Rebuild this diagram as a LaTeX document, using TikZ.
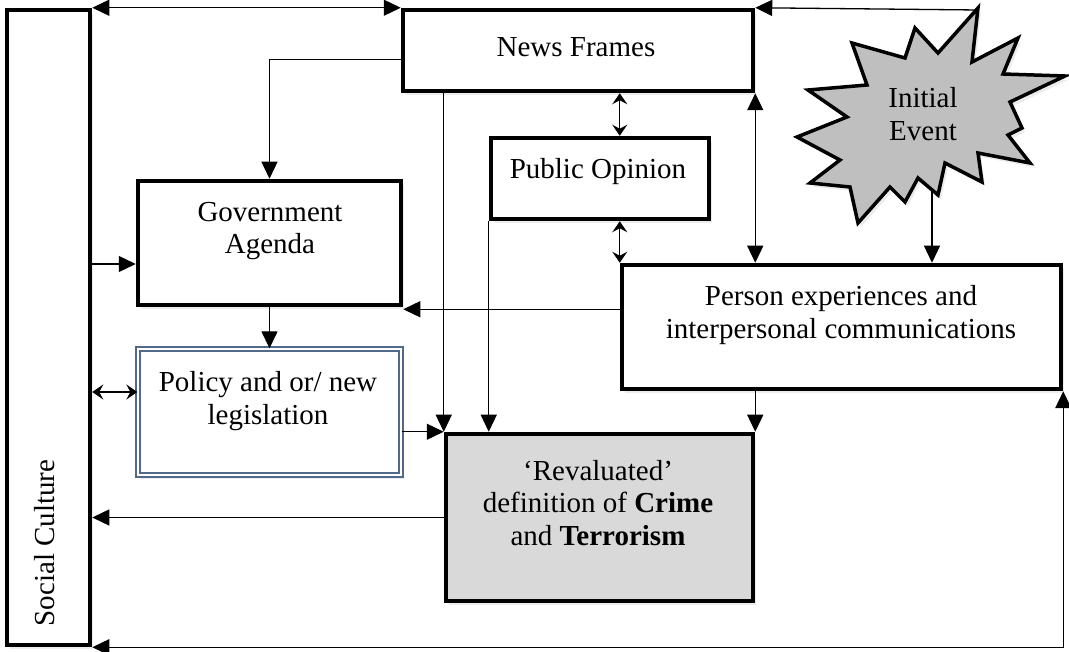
\documentclass[tikz,border=0pt]{standalone}
\usepackage{fontspec}
\setmainfont{Liberation Serif}
\usetikzlibrary{positioning, arrows.meta, shadows}
\definecolor{polblue}{RGB}{84,104,135}
\tikzset{
box/.style={draw, line width=4.5pt, fill=white, drop shadow={shadow xshift=3pt, shadow yshift=-4pt, opacity=0.15}}, % plain thick boxes
txt/.style={align=center, font=\fontsize{29}{32.5}\selectfont}, % texts in the boxes
link/.style={line width=1.3pt, -{Triangle[length=17pt,width=16pt]}}, % one way arrow
both/.style={line width=1.3pt, {Triangle[length=17pt,width=16pt]}-{Triangle[length=17pt,width=16pt]}}, % two way arrow
small/.style={line width=1.3pt, {Stealth[length=11pt,width=15pt,inset=4pt]}-{Stealth[length=11pt,width=15pt,inset=4pt]}}, % short two way arrow
}

\begin{document}
\begin{tikzpicture}[x=1pt, y=-1pt]
    \useasboundingbox (0,0) rectangle (1069,652);
    % boxes
    \node[box, minimum width=83pt, minimum height=635pt] (soc) at (48.5,327.5) {};
    \node[box, minimum width=350pt, minimum height=81pt] (news) at (578,50.5) {};
    \node[box, minimum width=218pt, minimum height=81pt] (pub) at (600,178.5) {};
    \node[box, minimum width=263pt, minimum height=124pt] (gov) at (269.5,243) {};
    \node[draw=polblue, double=white, double distance=2.5pt, line width=1.3pt, fill=white,
          drop shadow={shadow xshift=3pt, shadow yshift=-4pt, opacity=0.15},
          minimum width=263pt, minimum height=126pt] (pol) at (269.5,412) {};
    \node[box, fill=black!15, minimum width=307pt, minimum height=167pt] (rev) at (599.5,517.5) {};
    \node[box, minimum width=439pt, minimum height=124pt] (pers) at (841.5,327) {};
    \draw[line width=3.5pt, fill=black!25, line join=miter,
          drop shadow={shadow xshift=3pt, shadow yshift=-4pt, opacity=0.15}]
        (978,8) -- (972,62) -- (1018,38) -- (1003,74) -- (1065,76) -- (1010,102)
        -- (1022,128) -- (1008,135) -- (1030,163) -- (978,153) -- (982,182)
        -- (945,163) -- (938,195) -- (918,178) -- (905,202) -- (890,187)
        -- (858,223) -- (850,187) -- (810,183) -- (840,160) -- (797,137)
        -- (847,117) -- (808,90) -- (867,85) -- (852,43) -- (905,58)
        -- (915,28) -- (938,53) -- cycle;
    \coordinate (evtop) at (978,10);
    \coordinate (evfoot) at (932,190);
    % texts
    \node[txt, rotate=90] (soct) at (45,543) {Social Culture};
    \node[txt] (newst) at (576,47) {News Frames};
    \node[txt] (pubt) at (598,172) {Public Opinion};
    \node[txt] (govt) at (270,231) {Government\\Agenda};
    \node[txt] (polt) at (268,401) {Policy and or/ new\\legislation};
    \node[txt] (revt) at (598,503) {‘Revaluated’\\definition of \textbf{Crime}\\and \textbf{Terrorism}};
    \node[txt] (perst) at (841,315) {Person experiences and\\interpersonal communications};
    \node[txt] (evt) at (923,114) {Initial\\Event};
    % connectors
    \coordinate (g1) at ([yshift=-2pt]gov.south east);
    \coordinate (g2) at ([yshift=-21pt]gov.west);
    \coordinate (p1) at ([yshift=20pt]pol.west);
    \draw[both] (soc.north east) -- (news.north west);
    \draw[link] (evtop) -- (news.north east);
    \draw[link] ([yshift=-9pt]news.west) -| (gov.north);
    \draw[link] (news.south -| rev.north west) -- (rev.north west);
    \draw[link] (pub.south west) -- (pub.south west |- rev.north);
    \draw[small] (news.south -| pers.north west) -- (pub.north -| pers.north west);
    \draw[small] (pub.south -| pers.north west) -- (pers.north west);
    \draw[both] (news.south east) -- (news.south east |- pers.north);
    \draw[link] (evfoot) -- (evfoot |- pers.north);
    \draw[link] (g1 -| pers.west) -- (g1);
    \draw[link] (g2 -| soc.east) -- (g2);
    \draw[link] (gov.south) -- (pol.north);
    \draw[small] (p1 -| soc.east) -- (p1);
    \draw[link] (pol.east |- rev.north west) -- (rev.north west);
    \draw[link] (rev.west) -- (rev.west -| soc.east);
    \draw[link] (pers.south -| rev.north east) -- (rev.north east);
    \draw[both] (soc.south east) -| (pers.south east);
\end{tikzpicture}
\end{document}
